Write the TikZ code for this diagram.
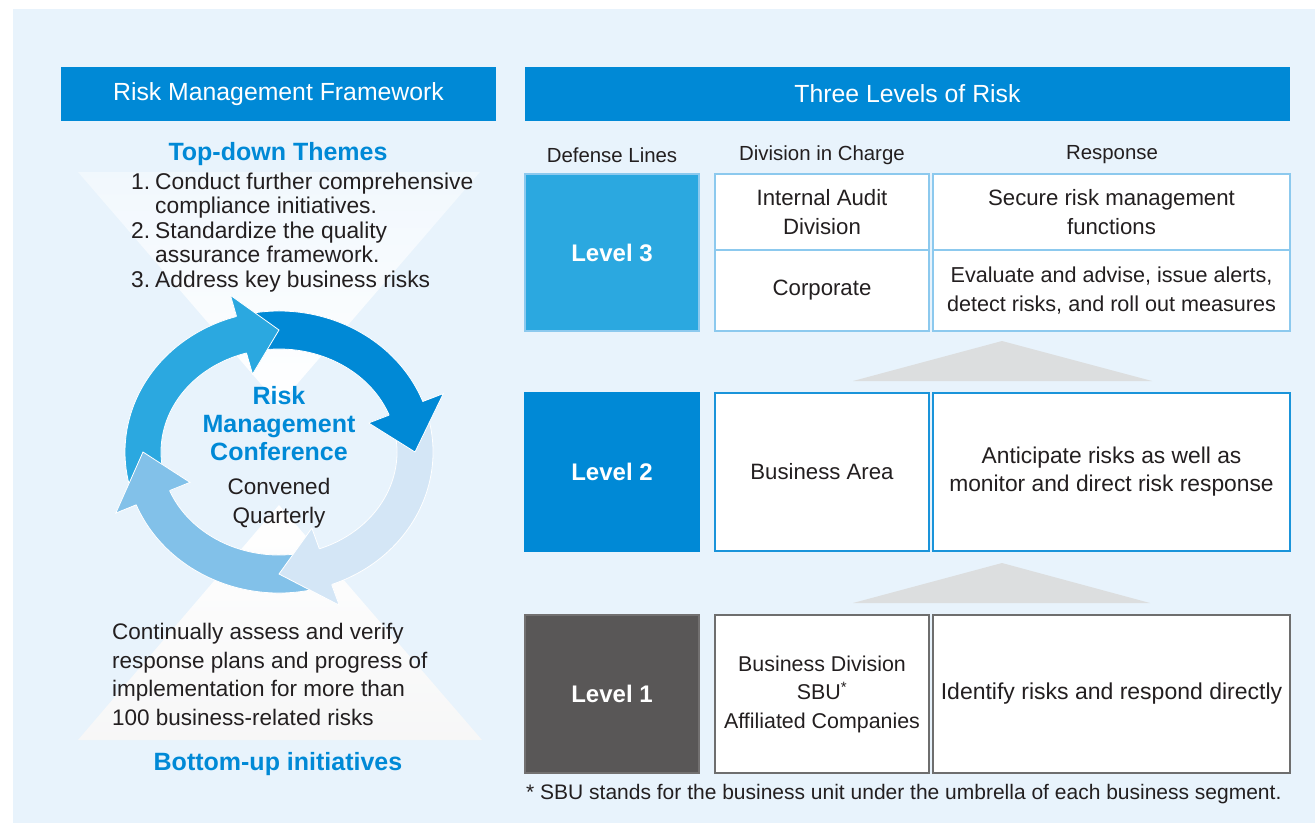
\documentclass[tikz,border=0pt]{standalone}
\usepackage{fontspec}
\setmainfont{Liberation Sans}
\definecolor{bg}{HTML}{E8F3FC}
\definecolor{mblue}{HTML}{0089D6}
\definecolor{lblue}{HTML}{2BA8E0}
\definecolor{pblue}{HTML}{82C1E9}
\definecolor{vblue}{HTML}{D4E6F6}
\definecolor{lbord}{HTML}{8CC9EE}
\definecolor{bbord}{HTML}{1A94DA}
\definecolor{dgray}{HTML}{595757}
\definecolor{gbord}{HTML}{6E6E6E}
\definecolor{trig}{HTML}{DCDEDF}
\definecolor{txt}{HTML}{231F20}
\newcommand{\cycbody}[3]{%
  \fill[#1] ({154*cos(#2)},{141*sin(#2)}) arc[start angle=#2, end angle=#3, x radius=154, y radius=141]
    -- ({118*cos(#3)},{103*sin(#3)}) arc[start angle=#3, end angle=#2, x radius=118, y radius=103] -- cycle;
  \draw[white, line width=0.8pt] ({154*cos(#2)},{141*sin(#2)}) arc[start angle=#2, end angle=#3, x radius=154, y radius=141];
  \draw[white, line width=0.8pt] ({118*cos(#2)},{103*sin(#2)}) arc[start angle=#2, end angle=#3, x radius=118, y radius=103];
}
\newcommand{\cychead}[3]{%
  \fill[#1] ({176*cos(#2)},{163*sin(#2)}) -- ({136*cos(#3)},{122*sin(#3)}) -- ({96*cos(#2)},{81*sin(#2)}) -- cycle;
  \draw[white, line width=0.8pt, line join=miter] ({154*cos(#2)},{141*sin(#2)}) -- ({176*cos(#2)},{163*sin(#2)}) -- ({136*cos(#3)},{122*sin(#3)}) -- ({96*cos(#2)},{81*sin(#2)}) -- ({118*cos(#2)},{103*sin(#2)});
}
\begin{document}
\begin{tikzpicture}[x=1pt,y=-1pt,
  hdr/.style={fill=mblue, text=white, inner sep=0pt, font=\fontsize{24.8}{28}\selectfont},
  colhead/.style={text=txt, inner sep=0pt, font=\fontsize{20.4}{24}\selectfont},
  lvbox/.style={inner sep=0pt, text=white, line width=1.5pt, font=\fontsize{24}{28}\bfseries\selectfont},
  cell/.style={fill=white, inner sep=0pt, line width=1.8pt, align=center, text=txt, font=\fontsize{22.2}{29}\selectfont},
  bluetitle/.style={text=mblue, inner sep=0pt, align=center, font=\fontsize{25}{28}\bfseries\selectfont},
  plain/.style={text=txt, inner sep=0pt, font=\fontsize{22.5}{28.5}\selectfont}]
\useasboundingbox (0,0) rectangle (1315,823);
\fill[bg] (13,9) rectangle (1315,823);
% hourglass background
\shade[top color=bg!60!white, bottom color=white] (78,172) -- (480,172) -- (279,405) -- cycle;
\shade[top color=white, bottom color=bg!40!gray!10!white] (279,505) -- (482,740) -- (78,740) -- cycle;
% headers
\node[hdr, minimum width=435pt, minimum height=54pt] (hdrL) at (278.5,94) {Risk Management Framework};
\node[hdr, minimum width=765pt, minimum height=54pt] (hdrR) at (907.5,94) {Three Levels of Risk};
% column headings
\node[colhead] (colA) at (612,155) {Defense Lines};
\node[colhead] (colB) at (822,155) {Division in Charge};
\node[colhead] (colC) at (1112,155) {Response};
% level 3
\node[lvbox, fill=lblue, draw=lbord, minimum width=174pt, minimum height=157pt] (lv3) at (612,252.5) {Level 3};
\node[cell, draw=lbord, minimum width=214pt, minimum height=76pt] (d3a) at (822,212) {Internal Audit\\Division};
\node[cell, draw=lbord, minimum width=214pt, minimum height=81pt] (d3b) at (822,290.5) {Corporate};
\node[cell, draw=lbord, minimum width=357pt, minimum height=76pt] (r3a) at (1111.5,212) {Secure risk management\\functions};
\node[cell, draw=lbord, minimum width=357pt, minimum height=81pt, font=\fontsize{21.6}{29}\selectfont] (r3b) at (1111.5,290.5) {Evaluate and advise, issue alerts,\\detect risks, and roll out measures};
% triangles
\fill[trig] (853,381) -- (1002,341) -- (1152,381) -- cycle;
\fill[trig] (853,603) -- (1002,563) -- (1150,603) -- cycle;
% level 2
\node[lvbox, fill=mblue, draw=mblue, minimum width=174pt, minimum height=158pt] (lv2) at (612,472) {Level 2};
\node[cell, draw=bbord, minimum width=214pt, minimum height=158pt] (d2) at (822,472) {Business Area};
\node[cell, draw=bbord, minimum width=357pt, minimum height=158pt, font=\fontsize{22.8}{28}\selectfont] (r2) at (1111.5,472) {Anticipate risks as well as\\monitor and direct risk response};
% level 1
\node[lvbox, fill=dgray, draw=dgray!85!white, minimum width=174pt, minimum height=158pt] (lv1) at (612,694) {Level 1};
\node[cell, draw=gbord, minimum width=214pt, minimum height=158pt, font=\fontsize{21.4}{28.5}\selectfont] (d1) at (822,694) {Business Division\\SBU\textsuperscript{*}\\Affiliated Companies};
\node[cell, draw=gbord, minimum width=357pt, minimum height=158pt, font=\fontsize{23}{28}\selectfont] (r1) at (1111.5,694) {Identify risks and respond directly};
\node[plain, anchor=west, font=\fontsize{21}{24}\selectfont] (foot) at (526,794) {* SBU stands for the business unit under the umbrella of each business segment.};
% left panel texts
\node[bluetitle] (topT) at (278,154) {Top-down Themes};
\node[plain, anchor=north west, font=\fontsize{22.8}{24.5}\selectfont] (list) at (131,172) {%
\begin{tabular}{@{}r@{\hspace{5pt}}l@{}}
1. & Conduct further comprehensive\\
   & compliance initiatives.\\
2. & Standardize the quality\\
   & assurance framework.\\
3. & Address key business risks
\end{tabular}};
% cycle
\begin{scope}[shift={(279,452)}, yscale=-1]
  \cycbody{lblue}{198}{104}
  \cycbody{mblue}{102}{19}
  \cycbody{vblue}{17}{-72}
  \cycbody{pblue}{-74}{-160}
  \cychead{lblue}{106}{90}
  \cychead{mblue}{21}{0}
  \cychead{vblue}{-70}{-90}
  \cychead{pblue}{-158}{-180}
\end{scope}
\node[bluetitle] (conf) at (279,424) {Risk\\Management\\Conference};
\node[plain, align=center] (conv) at (279,503) {Convened\\Quarterly};
\node[plain, anchor=north west, align=left] (btxt) at (112,623) {Continually assess and verify\\response plans and progress of\\implementation for more than\\100 business-related risks};
\node[bluetitle] (botT) at (278,764) {Bottom-up initiatives};
\end{tikzpicture}
\end{document}
